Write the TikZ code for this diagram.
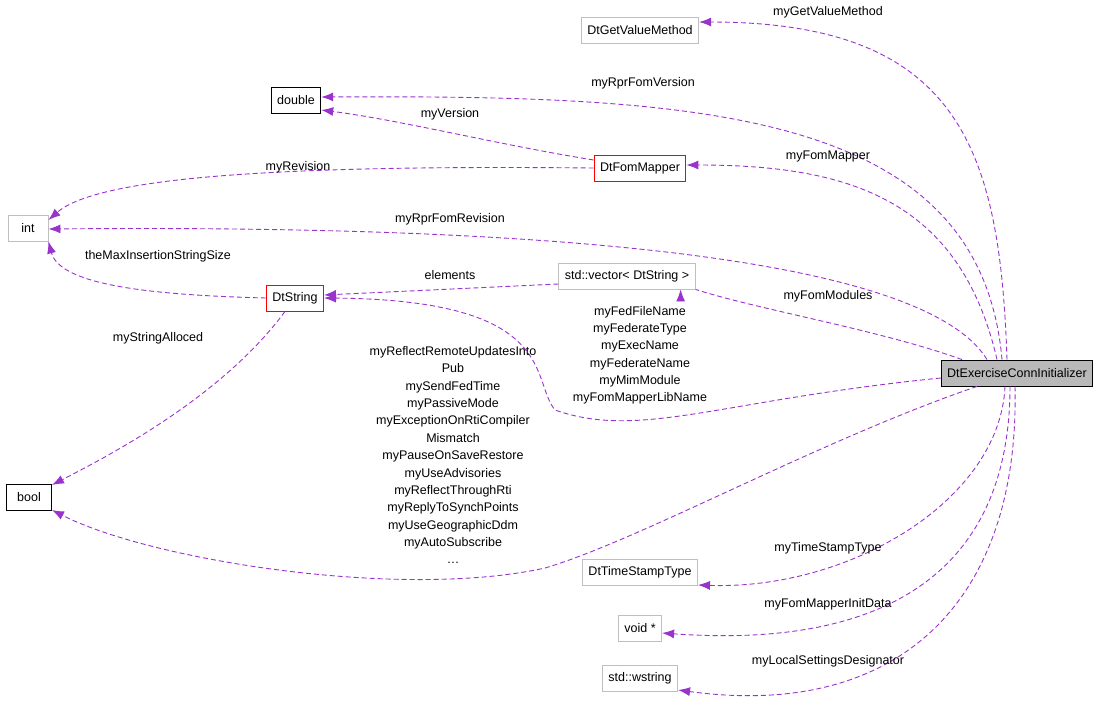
\documentclass[tikz,border=0pt]{standalone}
\usepackage{fontspec}
\setmainfont{Liberation Sans}
\usetikzlibrary{arrows.meta}
\begin{document}
\begin{tikzpicture}[x=1pt,y=-1pt,
 box/.style={draw=#1,fill=white,line width=0.9pt,minimum height=26pt,inner xsep=6pt,font=\fontsize{12.5}{14}\selectfont},
 e/.style={color={rgb,255:red,154;green,50;blue,205},line width=0.9pt,dash pattern=on 5pt off 3pt,-{Latex[length=12pt,width=9pt]}},
 lb/.style={font=\fontsize{12.5}{14}\selectfont,align=center}]
\useasboundingbox (0,0) rectangle (1109,710);
\node[box=gray!50] (gv) at (640,30) {DtGetValueMethod};
\node[box=black] (dbl) at (296,100) {double};
\node[box=red] (fm) at (640,168) {DtFomMapper};
\node[box=gray!50,minimum width=40pt] (int) at (28,228) {int};
\node[box=red] (str) at (295,298) {DtString};
\node[box=gray!50] (vec) at (627,276) {std::vector< DtString >};
\node[box=black,minimum width=45pt] (bool) at (29,497) {bool};
\node[box=black,fill=gray!55] (dx) at (1017,373) {DtExerciseConnInitializer};
\node[box=gray!50] (ts) at (640,572) {DtTimeStampType};
\node[box=gray!50] (vd) at (640,628) {void *};
\node[box=gray!50] (ws) at (640,678) {std::wstring};
\coordinate (k1) at (555,410);
\coordinate (k2) at (545,568);
\draw[e] (dx.north) ++(-10,0) .. controls (1000,150) and (960,22) .. (gv.east |- 0,22);
\draw[e] (dx.north) ++(-15,0) .. controls (980,110) and (700,95) .. (dbl.east |- 0,97);
\draw[e] (fm.west) ++(0,-8) .. controls (500,145) and (400,120) .. (dbl.east |- 0,110);
\draw[e] (dx.north) ++(-20,0) .. controls (960,200) and (850,165) .. (fm.east |- 0,165);
\draw[e] (fm.west) .. controls (300,165) and (100,175) .. (int.east |- 0,220);
\draw[e] (dx.north) ++(-30,0) .. controls (920,250) and (500,225) .. (int.east |- 0,229);
\draw[e] (str.west) .. controls (150,295) and (60,285) .. (int.south east);
\draw[e] (vec.west) ++(0,8) -- (str.east |- 0,295);
\draw[e] (dx.north) ++(-55,0) .. controls (880,330) and (760,310) .. (vec.south east) ++(-15,0);
\draw[e] (dx.west) ++(0,5) .. controls (720,400) and (640,440) .. (k1) .. controls (530,380) and (560,300) .. (str.east |- 0,298);
\draw[e] (str.south) ++(-10,0) .. controls (220,400) and (100,460) .. (bool.east |- 0,485);
\draw[e] (dx.south) ++(-40,0) .. controls (820,440) and (640,540) .. (k2) .. controls (400,600) and (150,560) .. (bool.east |- 0,510);
\draw[e] (dx.south) ++(-12,0) .. controls (1000,500) and (850,590) .. (ts.east |- 0,585);
\draw[e] (dx.south) ++(-7,0) .. controls (1010,560) and (900,650) .. (vd.east |- 0,633);
\draw[e] (dx.south) ++(-2,0) .. controls (1020,600) and (900,720) .. (ws.east |- 0,690);
\node[lb] (l1) at (828,12) {myGetValueMethod};
\node[lb] (l2) at (643,83) {myRprFomVersion};
\node[lb] (l3) at (450,114) {myVersion};
\node[lb] (l4) at (828,156) {myFomMapper};
\node[lb] (l5) at (298,167) {myRevision};
\node[lb] (l6) at (450,219) {myRprFomRevision};
\node[lb] (l7) at (158,256) {theMaxInsertionStringSize};
\node[lb] (l8) at (450,275) {elements};
\node[lb] (l9) at (828,296) {myFomModules};
\node[lb] (l10) at (158,338) {myStringAlloced};
\node[lb,font=\fontsize{12.5}{17.2}\selectfont,anchor=north] (l11) at (640,303) {myFedFileName\\myFederateType\\myExecName\\myFederateName\\myMimModule\\myFomMapperLibName};
\node[lb,font=\fontsize{12.5}{17.35}\selectfont,anchor=north] (l12) at (453,343) {myReflectRemoteUpdatesInto\\Pub\\mySendFedTime\\myPassiveMode\\myExceptionOnRtiCompiler\\Mismatch\\myPauseOnSaveRestore\\myUseAdvisories\\myReflectThroughRti\\myReplyToSynchPoints\\myUseGeographicDdm\\myAutoSubscribe\\\dots};
\node[lb] (l13) at (828,548) {myTimeStampType};
\node[lb] (l14) at (828,604) {myFomMapperInitData};
\node[lb] (l15) at (828,661) {myLocalSettingsDesignator};
\end{tikzpicture}
\end{document}
